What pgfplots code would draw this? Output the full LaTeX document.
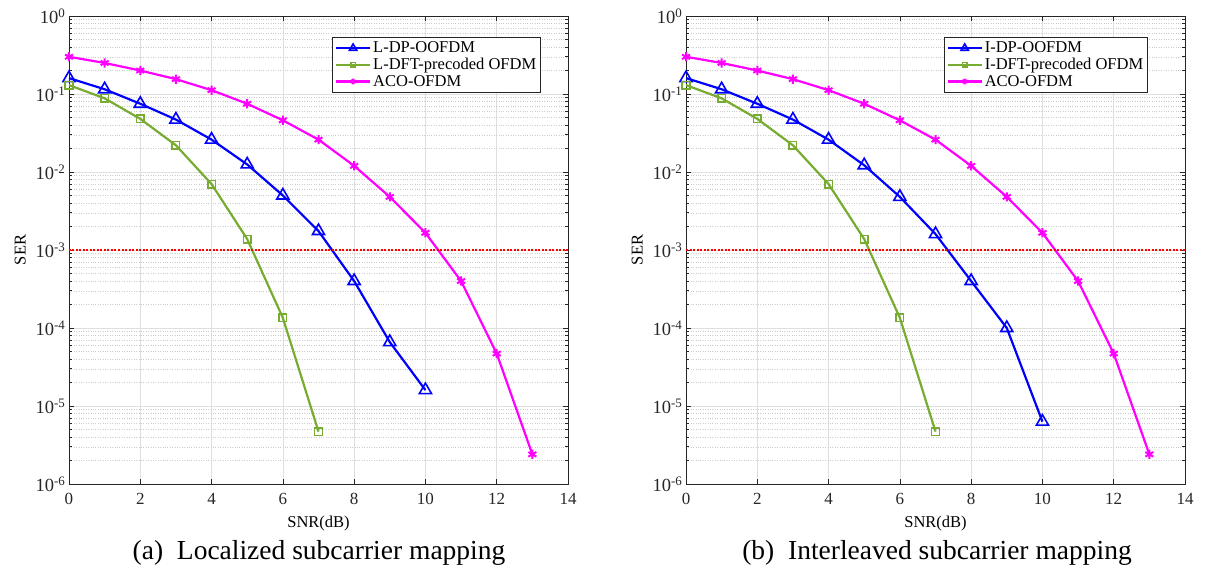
\documentclass[border=0pt]{standalone}
\usepackage{fontspec}
\setmainfont{Liberation Serif}
\usepackage{pgfplots}
\pgfplotsset{compat=1.18}
\definecolor{mgreen}{rgb}{0.466,0.674,0.188}
\definecolor{mmag}{rgb}{1,0,1}
\definecolor{mblue}{rgb}{0,0,1}
\definecolor{axgray}{rgb}{0.15,0.15,0.15}
\begin{document}
\begin{tikzpicture}[x=1pt,y=1pt]
\path[use as bounding box] (0,0) rectangle (1211,570);
\begin{axis}[at={(69pt,86pt)}, anchor=south west,
    scale only axis, width=499pt, height=468pt,
    ymode=log, xmin=0, xmax=14, ymin=1e-6, ymax=1,
    xtick={0,2,...,14},
    ytick={1e-6,1e-5,1e-4,1e-3,1e-2,1e-1,1},
    yticklabel={10\textsuperscript{\pgfmathparse{int(round(\tick/ln(10)))}\pgfmathresult}},
    /pgf/number format/assume math mode=true,
    tick label style={font=\fontsize{17}{19}\selectfont, text=axgray},
    yticklabel style={font=\fontsize{18.5}{20}\selectfont},
    xticklabel style={yshift=-6pt},
    label style={font=\fontsize{16.5}{18}\selectfont},
    xlabel={SNR(dB)}, ylabel={SER},
    xlabel style={yshift=-4pt}, ylabel style={yshift=3pt},
    grid=both,
    major grid style={gray!25, line width=0.6pt},
    minor grid style={gray!40, dotted, line width=0.5pt},
    minor x tick num=0,
    axis line style={axgray, line width=0.7pt},
    tick style={axgray, line width=0.7pt},
    tick align=inside,
    major tick length=5pt, minor tick length=3pt,
    legend style={at={(0.946,0.955)}, anchor=north east, font=\fontsize{16.5}{20}\selectfont,
      draw=axgray, line width=0.7pt, row sep=0pt, inner sep=2.5pt, cells={anchor=west}},
    legend image code/.code={\draw[mark repeat=2,mark phase=2,#1, every mark/.append style={scale=0.6}] plot coordinates {(0pt,0pt) (17pt,0pt) (34pt,0pt)};},
    legend cell align=left]
\addplot[mblue, line width=2.2pt, mark=triangle, mark size=7pt, mark options={solid, line width=1.6pt}] coordinates {
(0,0.16) (1,0.115) (2,0.075) (3,0.047) (4,0.026) (5,0.0125) (6,0.005) (7,0.00175) (8,0.0004) (9,0.000066) (10,0.000016)};
\addlegendentry{L-DP-OOFDM}
\addplot[mgreen, line width=2.2pt, mark=square, mark size=3.8pt, mark options={solid, line width=1.5pt}] coordinates {
(0,0.13) (1,0.088) (2,0.048) (3,0.022) (4,0.007) (5,0.00138) (6,0.000135) (7,0.0000047)};
\addlegendentry{L-DFT-precoded OFDM}
\addplot[mmag, line width=2.2pt, mark=asterisk, mark size=4.6pt, mark options={solid, line width=2pt}] coordinates {
(0,0.3) (1,0.25) (2,0.2) (3,0.155) (4,0.112) (5,0.075) (6,0.046) (7,0.026) (8,0.012) (9,0.0048) (10,0.00166) (11,0.0004) (12,0.000047) (13,0.0000024)};
\addlegendentry{ACO-OFDM}
\addplot[red, dash pattern=on 2pt off 1.5pt, line width=2pt, forget plot] coordinates {(0,0.001) (14,0.001)};
\end{axis}
\begin{axis}[at={(686pt,86pt)}, anchor=south west,
    scale only axis, width=499pt, height=468pt,
    ymode=log, xmin=0, xmax=14, ymin=1e-6, ymax=1,
    xtick={0,2,...,14},
    ytick={1e-6,1e-5,1e-4,1e-3,1e-2,1e-1,1},
    yticklabel={10\textsuperscript{\pgfmathparse{int(round(\tick/ln(10)))}\pgfmathresult}},
    /pgf/number format/assume math mode=true,
    tick label style={font=\fontsize{17}{19}\selectfont, text=axgray},
    yticklabel style={font=\fontsize{18.5}{20}\selectfont},
    xticklabel style={yshift=-6pt},
    label style={font=\fontsize{16.5}{18}\selectfont},
    xlabel={SNR(dB)}, ylabel={SER},
    xlabel style={yshift=-4pt}, ylabel style={yshift=3pt},
    grid=both,
    major grid style={gray!25, line width=0.6pt},
    minor grid style={gray!40, dotted, line width=0.5pt},
    minor x tick num=0,
    axis line style={axgray, line width=0.7pt},
    tick style={axgray, line width=0.7pt},
    tick align=inside,
    major tick length=5pt, minor tick length=3pt,
    legend style={at={(0.926,0.955)}, anchor=north east, font=\fontsize{16.5}{20}\selectfont,
      draw=axgray, line width=0.7pt, row sep=0pt, inner sep=2.5pt, cells={anchor=west}},
    legend image code/.code={\draw[mark repeat=2,mark phase=2,#1, every mark/.append style={scale=0.6}] plot coordinates {(0pt,0pt) (17pt,0pt) (34pt,0pt)};},
    legend cell align=left]
\addplot[mblue, line width=2.2pt, mark=triangle, mark size=7pt, mark options={solid, line width=1.6pt}] coordinates {
(0,0.16) (1,0.115) (2,0.075) (3,0.047) (4,0.026) (5,0.0122) (6,0.0048) (7,0.0016) (8,0.0004) (9,0.0001) (10,0.0000063)};
\addlegendentry{I-DP-OOFDM}
\addplot[mgreen, line width=2.2pt, mark=square, mark size=3.8pt, mark options={solid, line width=1.5pt}] coordinates {
(0,0.13) (1,0.088) (2,0.048) (3,0.022) (4,0.007) (5,0.00138) (6,0.000135) (7,0.0000047)};
\addlegendentry{I-DFT-precoded OFDM}
\addplot[mmag, line width=2.2pt, mark=asterisk, mark size=4.6pt, mark options={solid, line width=2pt}] coordinates {
(0,0.3) (1,0.25) (2,0.2) (3,0.155) (4,0.112) (5,0.075) (6,0.046) (7,0.026) (8,0.012) (9,0.0048) (10,0.00166) (11,0.0004) (12,0.000047) (13,0.0000024)};
\addlegendentry{ACO-OFDM}
\addplot[red, dash pattern=on 2pt off 1.5pt, line width=2pt, forget plot] coordinates {(0,0.001) (14,0.001)};
\end{axis}
\node[font=\fontsize{27.5}{30}\selectfont] at (319,17) {(a)\ \ Localized subcarrier mapping};
\node[font=\fontsize{27.5}{30}\selectfont] at (937,17) {(b)\ \ Interleaved subcarrier mapping};
\end{tikzpicture}
\end{document}
